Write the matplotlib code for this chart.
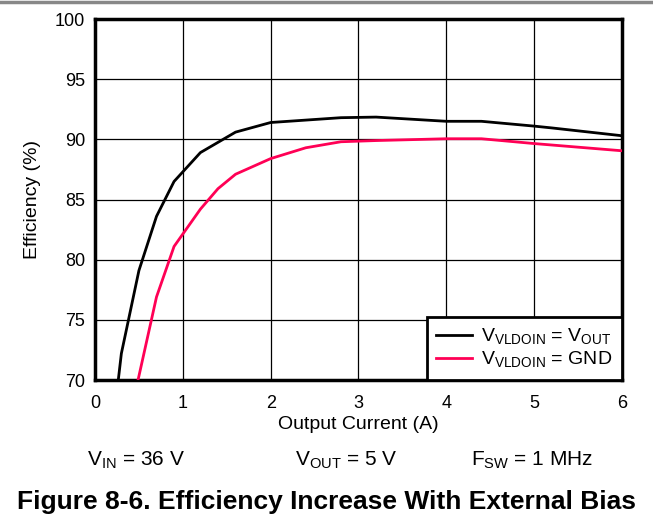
import matplotlib.pyplot as plt
from matplotlib.lines import Line2D

plt.rcParams['font.family'] = ['Liberation Sans', 'DejaVu Sans']
plt.rcParams['mathtext.fontset'] = 'custom'
plt.rcParams['mathtext.rm'] = 'Liberation Sans'

# efficiency curves
i_bias = [0.265, 0.30, 0.50, 0.70, 0.90, 1.20, 1.60, 2.00, 2.80, 3.20, 4.00, 4.40, 5.00, 5.20, 6.00]
eff_bias = [70.0, 72.2, 79.1, 83.6, 86.5, 88.9, 90.6, 91.4, 91.8, 91.85, 91.5, 91.5, 91.1, 90.95, 90.3]

i_gnd = [0.49, 0.70, 0.90, 1.20, 1.40, 1.60, 2.00, 2.40, 2.80, 3.20, 4.00, 4.40, 5.00, 6.00]
eff_gnd = [70.0, 76.9, 81.1, 84.2, 85.9, 87.1, 88.4, 89.3, 89.8, 89.9, 90.05, 90.05, 89.65, 89.05]

x_ticks = [0, 1, 2, 3, 4, 5, 6]
y_ticks = [70, 75, 80, 85, 90, 95, 100]

fig = plt.figure(figsize=(6.53, 5.24), dpi=100)
ax = fig.add_axes([0.1455, 0.2748, 0.807, 0.6889])

ax.plot(i_bias, eff_bias, color='black', lw=2, label=r'V$_{\mathrm{VLDOIN}}$ = V$_{\mathrm{OUT}}$', zorder=3)
ax.plot(i_gnd, eff_gnd, color='#ff0055', lw=2, label=r'V$_{\mathrm{VLDOIN}}$ = GND', zorder=3)

ax.set_xlim(0, 6)
ax.set_ylim(70, 100)
ax.set_xticks(x_ticks)
ax.set_yticks(y_ticks)
ax.tick_params(labelsize=13, length=0)
ax.tick_params(axis='x', pad=11)
ax.tick_params(axis='y', pad=7)
ax.grid(True, color='black', lw=0.9)
for s in ax.spines.values():
    s.set_linewidth(2.5)

ax.set_xlabel('Output Current (A)', fontsize=14, labelpad=3)
ax.set_ylabel('Efficiency (%)', fontsize=14, labelpad=10)

leg = ax.legend(loc='lower right', fontsize=14, frameon=True, fancybox=False,
                edgecolor='black', framealpha=1, borderaxespad=0,
                handlelength=1.85, handletextpad=0.45, borderpad=0.5, labelspacing=0.15)
leg.get_frame().set_linewidth(2)

# conditions line and caption
fig.text(136 / 653, 1 - 465 / 524, r'V$_{\mathrm{IN}}$ = 36 V', ha='center', va='baseline', fontsize=15)
fig.text(346 / 653, 1 - 465 / 524, r'V$_{\mathrm{OUT}}$ = 5 V', ha='center', va='baseline', fontsize=15)
fig.text(532 / 653, 1 - 465 / 524, r'F$_{\mathrm{SW}}$ = 1 MHz', ha='center', va='baseline', fontsize=15)
fig.text(327 / 653, 1 - 509 / 524, 'Figure 8-6. Efficiency Increase With External Bias',
         ha='center', va='baseline', fontsize=19, fontweight='bold')

# separator line at the top of the page
fig.add_artist(Line2D([0, 1], [1 - 1.5 / 524] * 2, color='#888888', lw=2.5, transform=fig.transFigure))

fig.savefig('out.png', dpi=100)
